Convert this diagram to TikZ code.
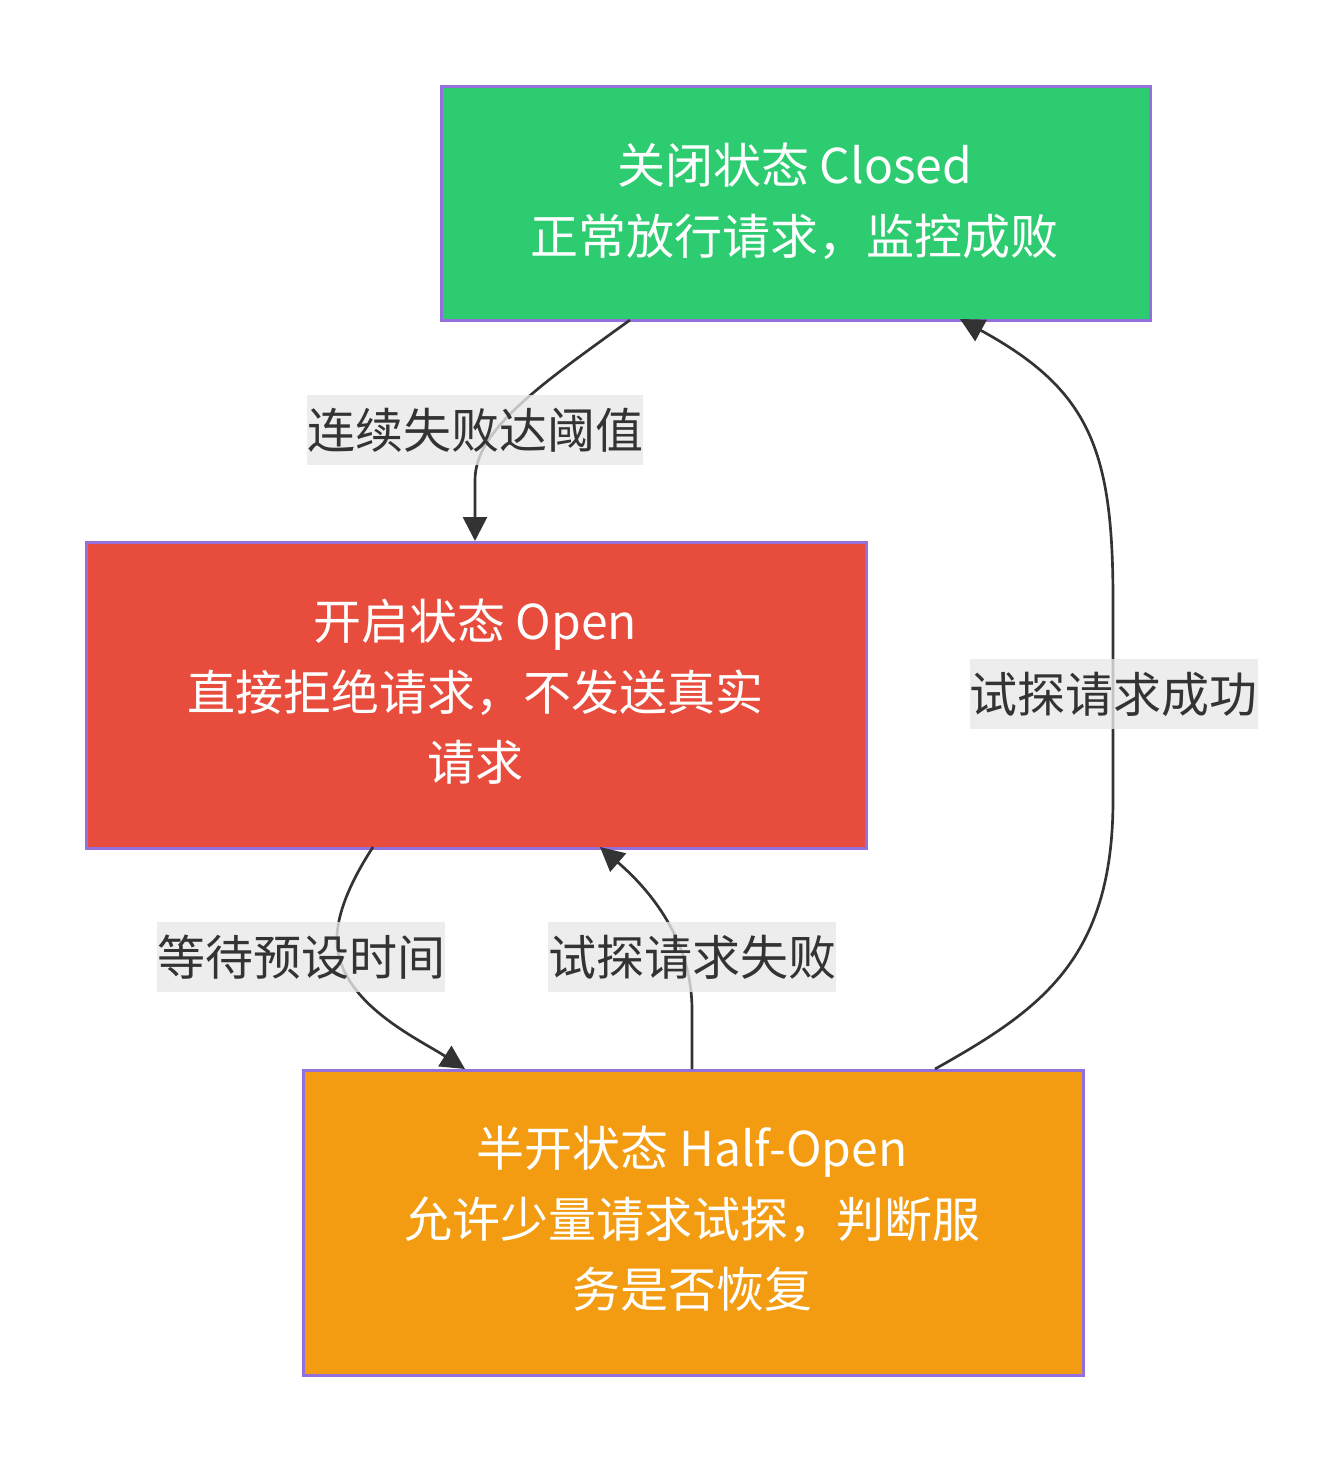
\documentclass[tikz,border=0pt]{standalone}
\usepackage{fontspec}
\setmainfont{Noto Sans CJK SC}
\usetikzlibrary{arrows.meta}
\definecolor{cgreen}{HTML}{2ECC71}
\definecolor{cred}{HTML}{E74C3C}
\definecolor{corange}{HTML}{F39C12}
\definecolor{cborder}{HTML}{9370DB}
\definecolor{cline}{HTML}{333333}
\definecolor{clab}{HTML}{E8E8E8}
\tikzset{
  statebox/.style={draw=cborder, line width=2pt, text=white, align=center,
    font=\fontsize{36}{53}\selectfont, inner sep=0pt, anchor=north west},
  boxtext/.style={align=center, text=white, font=\fontsize{36}{53}\selectfont},
  edgelab/.style={fill=clab, fill opacity=0.8, text opacity=1, text=cline,
    font=\fontsize{36}{42}\selectfont, inner sep=0pt, minimum height=52.5pt},
  conn/.style={draw=cline, line width=2pt, -{Triangle[length=18pt,width=18pt]}},
}
\begin{document}
\begin{tikzpicture}[x=0.75pt,y=-0.75pt]
\useasboundingbox (0,0) rectangle (1343,1460);
% boxes
\node[statebox, fill=cgreen, minimum width=531.75pt, minimum height=175.5pt] (closed) at (440,85) {};
\node[boxtext] (closedt) at (794.5,201) {关闭状态 Closed\\正常放行请求，监控成败};
\node[statebox, fill=cred, minimum width=585pt, minimum height=229.5pt] (open) at (85,541) {};
\node[boxtext] (opent) at (475,692) {开启状态 Open\\直接拒绝请求，不发送真实\\请求};
\node[statebox, fill=corange, minimum width=585pt, minimum height=228.75pt] (half) at (302,1069) {};
\node[boxtext] (halft) at (692,1219) {半开状态 Half-Open\\允许少量请求试探，判断服\\务是否恢复};
% anchor coordinates on borders
\coordinate (c1) at (630,320);
\coordinate (o1) at (475,541);
\coordinate (o2) at (373,847);
\coordinate (h1) at (465,1069);
\coordinate (h2) at (692,1069);
\coordinate (o3) at (600,847);
\coordinate (h3) at (935,1069);
\coordinate (c2) at (960,319);
% edges
\draw[conn] (c1) .. controls (540,385) and (475,430) .. (475,480) -- (o1);
\draw[conn] (o2) .. controls (345,890) and (330,930) .. (340,960) .. controls (355,1010) and (420,1040) .. (h1);
\draw[conn] (h2) -- (692,1010) .. controls (692,940) and (650,890) .. (o3);
\draw[conn] (h3) .. controls (1040,1010) and (1113,960) .. (1113,800) -- (1113,600) .. controls (1113,450) and (1090,390) .. (c2);
% labels
\node[edgelab, minimum width=252pt] (l1) at (475,430) {连续失败达阈值};
\node[edgelab, minimum width=216pt] (l2) at (301,957) {等待预设时间};
\node[edgelab, minimum width=216pt] (l3) at (692,957) {试探请求失败};
\node[edgelab, minimum width=216pt] (l4) at (1113.5,694) {试探请求成功};
\end{tikzpicture}
\end{document}
